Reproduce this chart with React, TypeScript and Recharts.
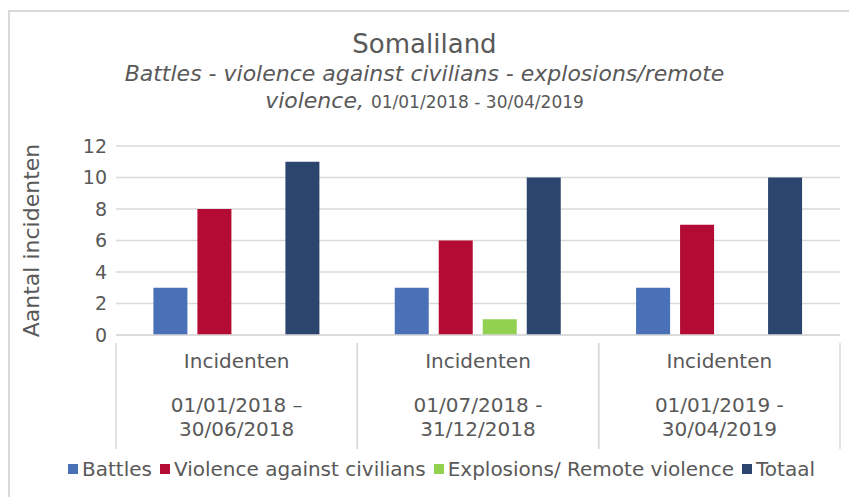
import { BarChart, Bar, XAxis, YAxis, CartesianGrid, Legend } from 'recharts';

const periods = [
  ['01/01/2018 –', '30/06/2018'],
  ['01/07/2018 -', '31/12/2018'],
  ['01/01/2019 -', '30/04/2019'],
];
const rowLabel = 'Incidenten';
const battles = [3, 3, 3];
const violence = [8, 6, 7];
const explosions = [0, 1, 0];
const totaal = [11, 10, 10];
const yTicks = [0, 2, 4, 6, 8, 10, 12];

const series = [
  { key: 'battles', name: 'Battles', color: '#4a71b7' },
  { key: 'violence', name: 'Violence against civilians', color: '#b30b33' },
  { key: 'explosions', name: 'Explosions/ Remote violence', color: '#92d050' },
  { key: 'totaal', name: 'Totaal', color: '#2c456f' },
];

const data = periods.map((p, i) => ({
  period: p.join('\n'),
  battles: battles[i],
  violence: violence[i],
  explosions: explosions[i],
  totaal: totaal[i],
}));

const FONT = "'DejaVu Sans', Verdana, sans-serif";
const TEXT = '#595959';
const GRID = '#d9d9d9';

const CategoryTick = ({ x, y, payload }: any) => {
  const half = payload?.offset || 120.7;
  const [l1, l2] = String(payload.value).split('\n');
  return (
    <g>
      <line x1={x - half} y1={y} x2={x - half} y2={y + 106} stroke={GRID} strokeWidth={1.5} />
      <line x1={x + half} y1={y} x2={x + half} y2={y + 106} stroke={GRID} strokeWidth={1.5} />
      <text x={x} y={y + 25} textAnchor="middle" fill={TEXT} fontSize={20} fontFamily={FONT}>{rowLabel}</text>
      <text x={x} y={y + 69} textAnchor="middle" fill={TEXT} fontSize={20} fontFamily={FONT}>{l1}</text>
      <text x={x} y={y + 93} textAnchor="middle" fill={TEXT} fontSize={20} fontFamily={FONT}>{l2}</text>
    </g>
  );
};

const LegendContent = () => (
  <div style={{ display: 'flex', justifyContent: 'center', fontFamily: FONT, fontSize: 20, color: TEXT, gap: 8, paddingLeft: 34 }}>
    {series.map(s => (
      <div key={s.key} style={{ display: 'flex', alignItems: 'center', gap: 4 }}>
        <div style={{ width: 10, height: 10, background: s.color }} />
        <span>{s.name}</span>
      </div>
    ))}
  </div>
);

export default function App() {
  return (
    <div style={{ position: 'absolute', left: 0, top: 0, width: 849, height: 497, overflow: 'hidden', background: '#fff' }}>
      <div style={{ position: 'absolute', left: 8, top: 10, width: 841, height: 487, borderLeft: `2px solid ${GRID}`, borderTop: `2px solid ${GRID}` }} />
      <div style={{ position: 'absolute', left: 0, top: 28, width: 849, textAlign: 'center', fontFamily: FONT, color: TEXT }}>
        <div style={{ fontSize: 26, lineHeight: '32px' }}>Somaliland</div>
        <div style={{ fontSize: 22, lineHeight: '27px', fontStyle: 'italic' }}>
          Battles - violence against civilians - explosions/remote<br />
          violence, <span style={{ fontStyle: 'normal', fontSize: 17 }}>01/01/2018 - 30/04/2019</span>
        </div>
      </div>
      <div style={{ position: 'absolute', left: 0, top: 0 }}>
        <BarChart
          width={849}
          height={497}
          data={data}
          margin={{ top: 146, right: 9, left: 0, bottom: 55 }}
          barCategoryGap="15.5%"
          barGap={10}
        >
          <CartesianGrid vertical={false} stroke={GRID} strokeWidth={1.5} />
          <XAxis
            dataKey="period"
            height={107}
            interval={0}
            axisLine={{ stroke: GRID, strokeWidth: 1.5 }}
            tickLine={false}
            tick={<CategoryTick />}
          />
          <YAxis
            width={116}
            domain={[0, 12]}
            ticks={yTicks}
            axisLine={false}
            tickLine={false}
            tickMargin={3}
            tick={{ fill: TEXT, fontSize: 19, fontFamily: FONT }}
            label={{
              content: ({ viewBox }: any) => (
                <text
                  x={31}
                  y={viewBox.y + viewBox.height / 2}
                  transform={`rotate(-90 31 ${viewBox.y + viewBox.height / 2})`}
                  textAnchor="middle"
                  dominantBaseline="central"
                  fill={TEXT}
                  fontSize={22}
                  fontFamily={FONT}
                >
                  Aantal incidenten
                </text>
              ),
            }}
          />
          <Legend
            verticalAlign="middle"
            align="center"
            layout="horizontal"
            content={<LegendContent />}
            wrapperStyle={{ position: 'absolute', top: 457, left: 0, width: 849 }}
          />
          {series.map(s => (
            <Bar key={s.key} dataKey={s.key} name={s.name} fill={s.color} isAnimationActive={false} />
          ))}
        </BarChart>
      </div>
    </div>
  );
}
